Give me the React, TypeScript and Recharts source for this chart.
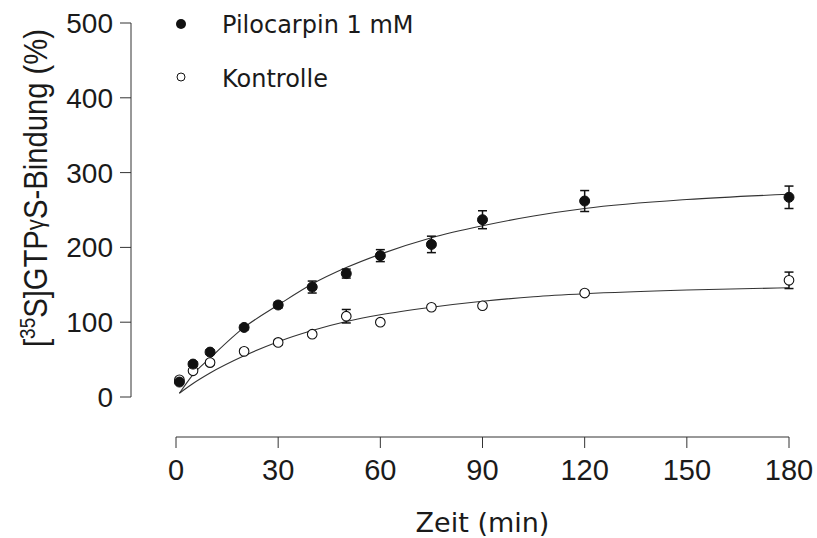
import React from "react";
import { ComposedChart, Scatter, Line, XAxis, YAxis, ErrorBar, Legend } from "recharts";

const times = [1, 5, 10, 20, 30, 40, 50, 60, 75, 90, 120, 180];
const pilocarpin = [20, 44, 60, 93, 123, 147, 165, 189, 204, 237, 262, 267];
const pilocarpinSem = [2, 3, 3, 3, 4, 8, 6, 8, 11, 12, 14, 15];
const kontrolle = [23, 35, 46, 61, 73, 84, 108, 100, 120, 122, 139, 156];
const kontrolleSem = [2, 2, 3, 3, 3, 3, 9, 3, 3, 3, 3, 11];

// fitted curves
const fitTimes = [1, 5, 10, 20, 30, 40, 50, 60, 75, 90, 105, 120, 150, 180];
const pilocarpinFit = [5, 30, 52, 93, 123, 151, 173, 191, 213, 229, 242, 252, 264, 271];
const kontrolleFit = [5, 18, 32, 55, 74, 89, 101, 110, 120, 128, 134, 138, 143, 146];

const xTicks = [0, 30, 60, 90, 120, 150, 180];
const yTicks = [0, 100, 200, 300, 400, 500];

const seriesNames = ["Pilocarpin 1 mM", "Kontrolle"];

const piloRows = times.map((t, i) => ({ t, y: pilocarpin[i], err: pilocarpinSem[i] }));
const kontrRows = times.map((t, i) => ({ t, y: kontrolle[i], err: kontrolleSem[i] }));
const piloFitRows = fitTimes.map((t, i) => ({ t, y: pilocarpinFit[i] }));
const kontrFitRows = fitTimes.map((t, i) => ({ t, y: kontrolleFit[i] }));

const INK = "#1a1a1a";
const ARIAL = '"Liberation Sans", Arial, sans-serif';
const VERDANA = '"DejaVu Sans", Verdana, sans-serif';

const FilledDot = (props: any) => <circle cx={props.cx} cy={props.cy} r={5} fill="#111" stroke="#111" strokeWidth={1} />;
const OpenDot = (props: any) => <circle cx={props.cx} cy={props.cy} r={4.8} fill="#fff" stroke="#111" strokeWidth={1.1} />;

function YLabel() {
  // the label in the reference is a bit condensed along its length
  return (
    <text
      transform="translate(47,188) rotate(-90) scale(0.86,1)"
      textAnchor="middle"
      fontFamily={ARIAL}
      fontSize={34}
      fill={INK}
    >
      [<tspan dy={-12} fontSize={22}>35</tspan>
      <tspan dy={12}>S]GTP</tspan>
      <tspan dy={-3} fontSize={26}>γ</tspan>
      <tspan dy={3}>S-Bindung (%)</tspan>
    </text>
  );
}

function LegendBox() {
  return (
    <svg width={440} height={100} style={{ display: "block" }}>
      <circle cx={181} cy={24} r={5} fill="#111" />
      <text x={222} y={33} fontFamily={VERDANA} fontSize={24} fill={INK}>{seriesNames[0]}</text>
      <circle cx={181} cy={77} r={4} fill="#fff" stroke="#111" strokeWidth={1} />
      <text x={222} y={87} fontFamily={VERDANA} fontSize={24} fill={INK}>{seriesNames[1]}</text>
    </svg>
  );
}

export default function App() {
  return (
    <div style={{ position: "relative", width: 817, height: 538, background: "#fff" }}>
      <style>{`body{margin:0}`}</style>
      <div style={{ position: "absolute", left: 0, top: 0 }}>
        <ComposedChart width={817} height={538} margin={{ top: 23, right: 28, bottom: 141, left: 0 }}>
          <XAxis hide type="number" dataKey="t" domain={[0, 180]} padding={{ left: 45, right: 0 }} />
          <YAxis
            type="number"
            domain={[0, 500]}
            ticks={yTicks}
            width={131}
            tickSize={11}
            tickMargin={7}
            axisLine={{ stroke: "#333" }}
            tickLine={{ stroke: "#333" }}
            tick={{ fontSize: 28, fill: INK, fontFamily: ARIAL }}
            label={() => <YLabel />}
          />
          <Legend
            layout="vertical"
            align="center"
            verticalAlign="middle"
            wrapperStyle={{ top: 0, left: 0, width: 440, height: 100 }}
            content={() => <LegendBox />}
          />
          <Line data={piloFitRows} dataKey="y" type="monotone" stroke="#333" strokeWidth={1.1} dot={false} legendType="none" isAnimationActive={false} />
          <Line data={kontrFitRows} dataKey="y" type="monotone" stroke="#333" strokeWidth={1.1} dot={false} legendType="none" isAnimationActive={false} />
          <Scatter name={seriesNames[1]} data={kontrRows} dataKey="y" shape={OpenDot} isAnimationActive={false}>
            <ErrorBar dataKey="err" direction="y" width={4.5} stroke="#111" strokeWidth={1.5} />
          </Scatter>
          <Scatter name={seriesNames[0]} data={piloRows} dataKey="y" shape={FilledDot} isAnimationActive={false}>
            <ErrorBar dataKey="err" direction="y" width={4.5} stroke="#111" strokeWidth={1.5} />
          </Scatter>
        </ComposedChart>
      </div>
      <div style={{ position: "absolute", left: 0, top: 0 }}>
        <ComposedChart width={817} height={538} margin={{ top: 0, right: 28, bottom: 0, left: 176 }} data={piloRows}>
          <XAxis
            type="number"
            dataKey="t"
            domain={[0, 180]}
            ticks={xTicks}
            height={101}
            tickSize={11}
            tickMargin={11}
            axisLine={{ stroke: "#333" }}
            tickLine={{ stroke: "#333" }}
            tick={{ fontSize: 29, fill: INK, fontFamily: ARIAL }}
            label={{ value: "Zeit (min)", position: "insideBottom", offset: 6, fontSize: 27, fill: INK, fontFamily: VERDANA }}
          />
        </ComposedChart>
      </div>
    </div>
  );
}
